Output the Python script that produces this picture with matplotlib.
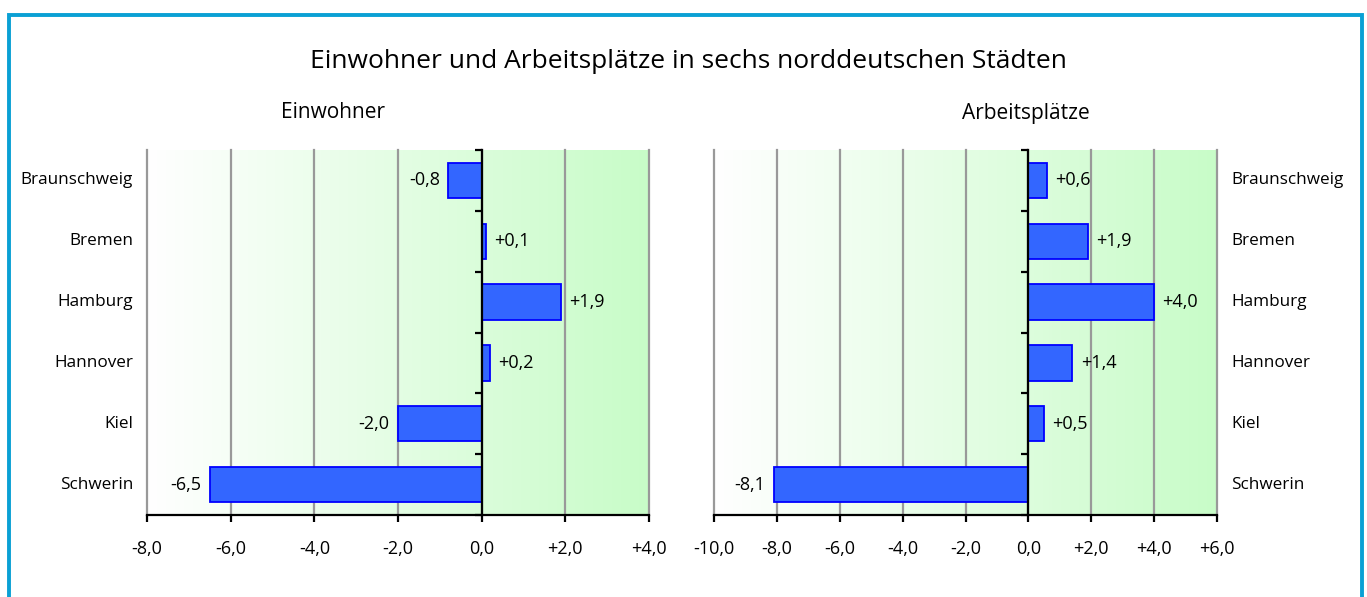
import numpy as np
import matplotlib
matplotlib.use("Agg")
import matplotlib.pyplot as plt
from matplotlib.colors import LinearSegmentedColormap
from matplotlib.patches import Rectangle
import matplotlib.transforms as mtransforms

plt.rcParams['font.family'] = ['Open Sans', 'DejaVu Sans']

CITIES = ["Braunschweig", "Bremen", "Hamburg", "Hannover", "Kiel", "Schwerin"]
EINWOHNER = [-0.8, 0.1, 1.9, 0.2, -2.0, -6.5]
ARBEITSPLAETZE = [0.6, 1.9, 4.0, 1.4, 0.5, -8.1]
XTICKS_LEFT = [-8, -6, -4, -2, 0, 2, 4]
XTICKS_RIGHT = [-10, -8, -6, -4, -2, 0, 2, 4, 6]

TITLE = "Einwohner und Arbeitsplätze in sechs norddeutschen Städten"

W, H = 1367, 597
fig = plt.figure(figsize=(W / 100, H / 100), dpi=100)

green = LinearSegmentedColormap.from_list("g", ["#ffffff", "#c8fcc8"])

NUM_FS = 13
CAT_FS = 12.3


def fmt(v):
    s = f"{abs(v):.1f}".replace(".", ",")
    if v > 0:
        return "+" + s
    if v < 0:
        return "-" + s
    return s


def panel(rect, values, xticks, label_side):
    ax = fig.add_axes(rect)
    lo, hi = xticks[0], xticks[-1]
    n = len(CITIES)
    y = np.arange(n)

    # background gradient
    grad = np.linspace(0, 1, 256).reshape(1, -1)
    ax.imshow(grad, cmap=green, aspect="auto", extent=(lo, hi, n - 0.5, -0.5),
              zorder=0, interpolation="bilinear")

    for t in xticks:
        ax.axvline(t, color="#999999", lw=1.6, zorder=1, clip_on=False)

    ax.barh(y, values, height=0.58, color="#3366ff", edgecolor="#0000ff",
            linewidth=1.3, zorder=3)

    for yi, v in zip(y, values):
        ax.annotate(fmt(v), (v, yi), xytext=(6 if v >= 0 else -6, 0),
                    textcoords="offset points", va="center",
                    ha="left" if v >= 0 else "right", fontsize=NUM_FS, zorder=4)

    ax.set_xlim(lo, hi)
    ax.set_ylim(n - 0.5, -0.5)
    ax.set_xticks(xticks)
    ax.set_xticklabels([fmt(t) for t in xticks], fontsize=NUM_FS)
    ax.set_yticks(np.arange(n + 1) - 0.5)
    ax.set_yticklabels([])
    ax.spines["left"].set_position(("data", 0))
    ax.spines["left"].set_linewidth(1.6)
    ax.spines["left"].set_zorder(5)
    ax.spines["bottom"].set_linewidth(1.6)
    ax.spines["bottom"].set_zorder(5)
    ax.spines["top"].set_visible(False)
    ax.spines["right"].set_visible(False)
    ax.tick_params(axis="y", direction="out", length=5, width=1.6)
    ax.tick_params(axis="x", direction="out", length=5, width=1.6, pad=13)

    trans = mtransforms.blended_transform_factory(ax.transAxes, ax.transData)
    for yi, c in zip(y, CITIES):
        if label_side == "left":
            ax.annotate(c, (0, yi), xycoords=trans, xytext=(-10, 0),
                        textcoords="offset points", ha="right", va="center",
                        fontsize=CAT_FS, annotation_clip=False)
        else:
            ax.annotate(c, (1, yi), xycoords=trans, xytext=(10, 0),
                        textcoords="offset points", ha="left", va="center",
                        fontsize=CAT_FS, annotation_clip=False)
    return ax


bottom = (H - 515) / H
height = 365 / H
panel([147 / W, bottom, 502 / W, height], EINWOHNER, XTICKS_LEFT, "left")
panel([714 / W, bottom, 503 / W, height], ARBEITSPLAETZE, XTICKS_RIGHT, "right")

fig.text(688 / W, 1 - 62 / H, TITLE, ha="center", va="center", fontsize=19)
fig.text(333 / W, 1 - 113 / H, "Einwohner", ha="center", va="center", fontsize=15)
fig.text(1026 / W, 1 - 113 / H, "Arbeitsplätze", ha="center", va="center", fontsize=15)

# outer frame
fig.add_artist(Rectangle((8.5 / W, -0.1), (1361.5 - 8.5) / W, 1.1 - 15.5 / H,
                         transform=fig.transFigure, fill=False,
                         edgecolor="#0aa0d4", linewidth=2.8))

fig.savefig("out.png", dpi=100)
